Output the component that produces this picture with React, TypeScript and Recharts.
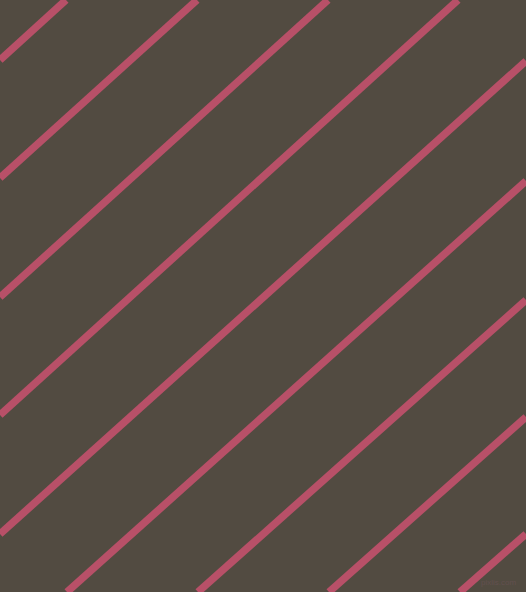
import React from "react";
import { LineChart, Line, XAxis, YAxis } from "recharts";

const stripeStartX = [0, 0, 0, 0, 0, 67, 198, 329, 460];
const stripeStartY = [60, 178, 297, 415, 534, 592, 592, 592, 592];
const stripeEndX = [66, 197, 328, 458, 526, 526, 526, 526, 526];
const stripeEndY = [0, 0, 0, 0, 61, 181, 300, 417, 534];

const W = 526;
const H = 592;
const BG = "#524b41";
const STRIPE = "#b85068";

export default function App() {
  const stripes = stripeStartX.map((x0, i) => [
    { x: x0, y: stripeStartY[i] },
    { x: stripeEndX[i], y: stripeEndY[i] },
  ]);

  return (
    <div style={{ position: "fixed", left: 0, top: 0, width: W, height: H, background: BG, overflow: "hidden" }}>
      <LineChart width={W} height={H} margin={{ top: 0, right: 0, bottom: 0, left: 0 }}>
        <XAxis type="number" dataKey="x" domain={[0, W]} hide allowDataOverflow />
        <YAxis type="number" dataKey="y" domain={[0, H]} reversed hide allowDataOverflow />
        {stripes.map((pts, i) => (
          <Line
            key={i}
            data={pts}
            dataKey="y"
            type="linear"
            stroke={STRIPE}
            strokeWidth={7.5}
            strokeLinecap="butt"
            dot={false}
            activeDot={false}
            isAnimationActive={false}
          />
        ))}
      </LineChart>
      <div
        style={{
          position: "absolute",
          left: 481,
          top: 578,
          fontFamily: "Liberation Sans, sans-serif",
          fontSize: 8,
          color: "#62504f",
          lineHeight: "10px",
          whiteSpace: "nowrap",
        }}
      >
        pixlis.com
      </div>
    </div>
  );
}
